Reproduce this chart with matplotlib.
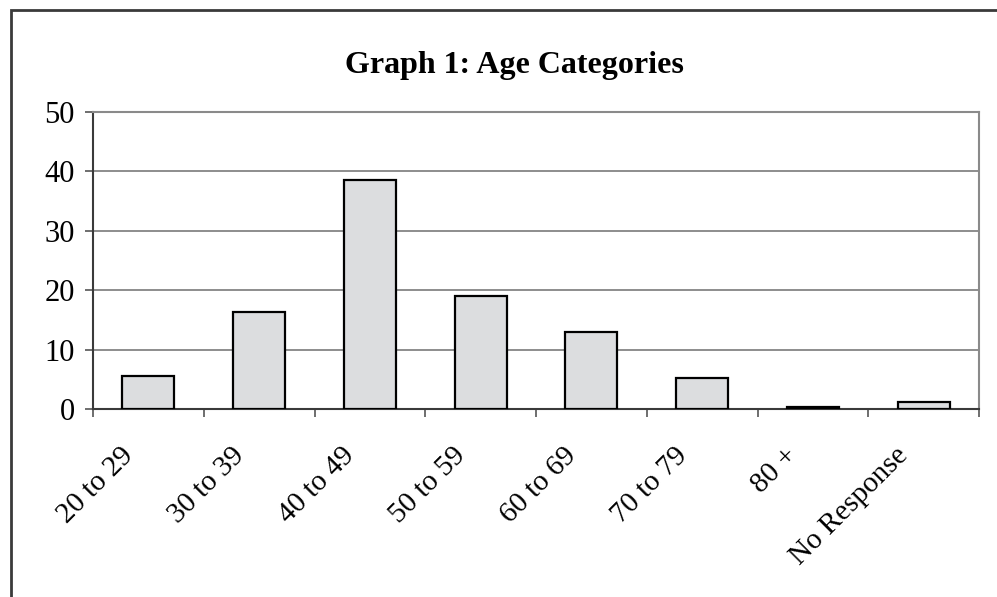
import matplotlib
matplotlib.use("Agg")
import matplotlib.pyplot as plt
from matplotlib.patches import Rectangle
from matplotlib.transforms import ScaledTranslation

categories = ["20 to 29", "30 to 39", "40 to 49", "50 to 59", "60 to 69", "70 to 79", "80 +", "No Response"]
values = [5.6, 16.4, 38.5, 19.1, 13.0, 5.3, 0.3, 1.2]
y_ticks = [0, 10, 20, 30, 40, 50]
title = "Graph 1: Age Categories"

plt.rcParams["font.family"] = ["Liberation Serif", "DejaVu Serif"]

W, H = 997, 597
fig = plt.figure(figsize=(W / 100, H / 100), dpi=100)
ax = fig.add_axes([93 / W, 1 - 409 / H, (979 - 93) / W, (409 - 112) / H])

# outer chart border (runs off the right and bottom edges)
fig.patches.append(Rectangle((11 / W, -0.05), 1.1, 1 - 10 / H + 0.05, transform=fig.transFigure,
                             fill=False, edgecolor="#3a3a3a", linewidth=2.0, zorder=0))

x = range(len(categories))
ax.bar(x, values, width=0.47, color="#dcdddf", edgecolor="black", linewidth=1.6, zorder=3)

ax.set_xlim(-0.5, len(categories) - 0.5)
ax.set_ylim(0, 50)
ax.set_yticks(y_ticks)
ax.yaxis.grid(True, color="#7a7a7a", linewidth=1.2, zorder=0)
ax.set_axisbelow(True)

ax.set_xticks(list(x))
ax.set_xticks([i - 0.5 for i in range(len(categories) + 1)], minor=True)
ax.tick_params(axis="x", which="major", length=0, pad=24, labelsize=21)
ax.tick_params(axis="x", which="minor", length=6, width=1.2, color="#555555")
ax.tick_params(axis="y", length=6, width=1.2, color="#555555", pad=7, labelsize=22)
labels = ax.set_xticklabels(categories, rotation=45, ha="right", rotation_mode="default")
offset = ScaledTranslation(-10 / 100, 0, fig.dpi_scale_trans)
for lab in labels:
    lab.set_transform(lab.get_transform() + offset)

for side in ["left", "bottom"]:
    ax.spines[side].set_color("#3a3a3a")
    ax.spines[side].set_linewidth(1.5)
for side in ["top", "right"]:
    ax.spines[side].set_color("#8a8a8a")
    ax.spines[side].set_linewidth(1.5)

fig.text(514 / W, 1 - 73 / H, title, ha="center", va="baseline", fontsize=23, fontweight="bold")

fig.savefig("out.png", dpi=100)
